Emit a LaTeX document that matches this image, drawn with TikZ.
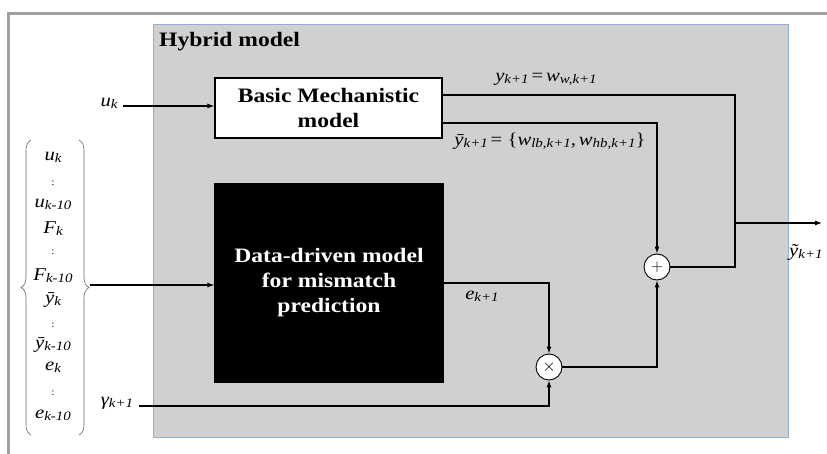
\documentclass[tikz,border=0pt]{standalone}
\usepackage{fontspec}
\setmainfont{Liberation Serif}[FakeStretch=1.15]
\usetikzlibrary{arrows.meta,decorations.pathreplacing}

\definecolor{panel}{HTML}{CFD0CF}
\definecolor{panelrim}{HTML}{8FB0CF}
\definecolor{framegray}{HTML}{A0A0A0}

% variable with italic subscript
\newcommand\vv[1]{{\fontsize{18}{18}\selectfont\itshape #1}}
\newcommand\up[1]{{\fontsize{18}{18}\selectfont #1}}
\newcommand\lo[1]{\raisebox{-0.45ex}{\fontsize{13}{13}\selectfont\itshape #1}}
\newcommand\tinydots{{\fontsize{10}{10}\selectfont :}}

\begin{document}
\begin{tikzpicture}[x=1pt,y=-1pt,
  wire/.style={line width=1.1pt,black},
  arr/.style={wire,-{Latex[length=7pt,width=5pt]}},
  blockbox/.style={draw=black,line width=1.2pt,inner sep=0pt,align=center,
    font=\fontsize{20.5}{25}\selectfont\bfseries},
  circ/.style={circle,draw=black,line width=0.9pt,fill=white,minimum size=26pt,
    inner sep=0pt,font=\sffamily\fontsize{17}{17}\selectfont},
  lab/.style={inner sep=1pt},
  stack/.style={inner sep=0pt},
  bracestyle/.style={draw=black!60,line width=0.6pt,decorate,
    decoration={brace,amplitude=10pt,aspect=0.5}}]

\useasboundingbox (0,0) rectangle (827,454);
\fill[white] (0,0) rectangle (827,454);

% outer frame
\draw[framegray,line width=3pt] (8.5,454) -- (8.5,13.5) -- (827,13.5);

% hybrid model panel
\node[draw=panelrim,fill=panel,line width=0.8pt,minimum width=635pt,minimum height=413pt,
  inner sep=0pt] (panel) at (470.5,230.5) {};
\node[anchor=west,inner sep=0pt,font=\fontsize{20.5}{24}\selectfont\bfseries]
  (title) at (159,42) {Hybrid model};

% blocks
\node[blockbox,fill=white,minimum width=227pt,minimum height=60pt] (bm) at (328.5,108)
  {Basic Mechanistic\\model};
\node[blockbox,fill=black,text=white,minimum width=228pt,minimum height=198pt] (dd) at (329,283)
  {Data-driven model\\for mismatch\\prediction};

% operators
\node[circ] (plus) at (657,267) {+};
\node[circ] (times) at (549,367) {$\times$};

% input u_k
\node[lab] (uk) at (109,103) {\vv{u}\lo{k}};
\coordinate (ukend) at (123,106);
\draw[arr] (ukend) -- (bm.west|-ukend);

% mechanistic outputs
\coordinate (ytop) at (442,95);
\coordinate (yturn) at (735,95);
\draw[wire] (ytop) -- (yturn) |- (plus.east);
\coordinate (ybar) at (442,123);
\draw[arr] (ybar) -| (plus.north);
\node[lab] (ylab) at (546,79)
  {\vv{y}\lo{k+1} \up{=} \vv{w}\lo{w,k+1}};
\node[lab] (yblab) at (550,141)
  {\vv{\={y}}\lo{k+1} \up{= \{}\vv{w}\lo{lb,k+1}\up{,} \vv{w}\lo{hb,k+1}\up{\}}};

% final output
\coordinate (jn) at (735,223);
\coordinate (out) at (822,223);
\draw[arr] (jn) -- (out);
\node[inner sep=0pt,anchor=west] (ytl) at (789,252) {\vv{\~{y}}\lo{k+1}};

% mismatch path
\draw[arr] (dd.east) -| (times.north);
\node[lab] (elab) at (482,296) {\vv{e}\lo{k+1}};
\draw[arr] (times.east) -| (plus.south);

% gamma input
\node[lab] (glab) at (117,403) {\vv{γ}\lo{k+1}};
\coordinate (g0) at (139,406);
\draw[arr] (g0) -| (times.south);

% regressor stack
\node[stack] (s1) at (53,157) {\vv{u}\lo{k}};
\node[stack] (s2) at (53,183) {\tinydots};
\node[stack] (s3) at (53,204) {\vv{u}\lo{k-10}};
\node[stack] (s4) at (53,229) {\vv{F}\lo{k}};
\node[stack] (s5) at (53,252) {\tinydots};
\node[stack] (s6) at (53,276) {\vv{F}\lo{k-10}};
\node[stack] (s7) at (53,300) {\vv{\={y}}\lo{k}};
\node[stack] (s8) at (53,325) {\tinydots};
\node[stack] (s9) at (53,345) {\vv{\={y}}\lo{k-10}};
\node[stack] (s10) at (53,367) {\vv{e}\lo{k}};
\node[stack] (s11) at (53,393) {\tinydots};
\node[stack] (s12) at (53,415) {\vv{e}\lo{k-10}};

\draw[bracestyle] (31,435) -- (31,140);
\draw[bracestyle] (79,140) -- (79,435);
\coordinate (bt) at (90,285);
\draw[arr] (bt) -- (dd.west|-bt);

\end{tikzpicture}
\end{document}
